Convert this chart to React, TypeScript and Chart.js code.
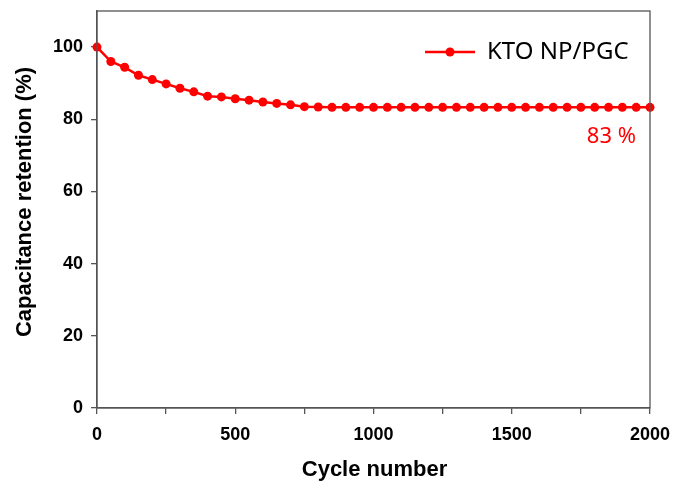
import React, { useEffect, useRef } from "react";
import { Chart, registerables } from "chart.js";

Chart.register(...registerables);

const cycles: number[] = [
  0, 50, 100, 150, 200, 250, 300, 350, 400, 450, 500, 550, 600, 650, 700, 750, 800, 850, 900, 950,
  1000, 1050, 1100, 1150, 1200, 1250, 1300, 1350, 1400, 1450, 1500, 1550, 1600, 1650, 1700, 1750,
  1800, 1850, 1900, 1950, 2000,
];
const retention: number[] = [
  100, 96.0, 94.4, 92.2, 91.0, 89.8, 88.6, 87.6, 86.4, 86.2, 85.7, 85.3, 84.8, 84.4, 84.0, 83.5,
  83.4, 83.3, 83.3, 83.3, 83.3, 83.3, 83.3, 83.3, 83.3, 83.3, 83.3, 83.3, 83.3, 83.3, 83.3, 83.3,
  83.3, 83.3, 83.3, 83.3, 83.3, 83.3, 83.3, 83.3, 83.3,
];
const yTickValues: number[] = [0, 20, 40, 60, 80, 100];
const seriesName = "KTO NP/PGC";
const annotationText = "83 %";
const xTitle = "Cycle number";
const yTitle = "Capacitance retention (%)";

const RED = "#ff0000";
const AXIS = "#555555";

export default function App() {
  const ref = useRef<HTMLCanvasElement | null>(null);

  useEffect(() => {
    if (!ref.current) return;
    const overlay = {
      id: "overlay",
      afterDraw(chart: any) {
        const ctx = chart.ctx;
        const a = chart.chartArea;
        ctx.save();
        ctx.strokeStyle = AXIS;
        ctx.lineWidth = 1.3;
        ctx.strokeRect(a.left, a.top, a.right - a.left, a.bottom - a.top);
        ctx.fillStyle = "#000";
        ctx.font = "bold 22px 'Liberation Sans', Arial, sans-serif";
        ctx.textAlign = "center";
        ctx.textBaseline = "middle";
        ctx.fillText(xTitle, (a.left + a.right) / 2 + 1, 470);
        ctx.save();
        ctx.translate(25, 202);
        ctx.rotate(-Math.PI / 2);
        ctx.fillText(yTitle, 0, 0);
        ctx.restore();
        const ly = 52;
        ctx.strokeStyle = RED;
        ctx.lineWidth = 2.5;
        ctx.beginPath();
        ctx.moveTo(425, ly);
        ctx.lineTo(475, ly);
        ctx.stroke();
        ctx.fillStyle = RED;
        ctx.beginPath();
        ctx.arc(450, ly, 4.5, 0, Math.PI * 2);
        ctx.fill();
        ctx.fillStyle = "#000";
        ctx.textAlign = "left";
        ctx.font = "24px 'Noto Sans', 'Open Sans', sans-serif";
        ctx.fillText(seriesName, 487, ly);
        ctx.fillStyle = RED;
        ctx.font = "22px 'Noto Sans', 'Open Sans', sans-serif";
        ctx.textAlign = "right";
        ctx.fillText(annotationText, 636, 137);
        ctx.restore();
      },
    };

    const zeroPad = (scale: any) => {
      scale.paddingTop = 0;
      scale.paddingBottom = 0;
      scale.paddingLeft = 0;
      scale.paddingRight = 0;
    };

    const chart = new Chart(ref.current, {
      type: "line",
      data: {
        labels: cycles,
        datasets: [
          {
            label: seriesName,
            data: cycles.map((c, i) => ({ x: c, y: retention[i] })),
            borderColor: RED,
            backgroundColor: RED,
            borderWidth: 2.5,
            pointRadius: 4.5,
            pointHoverRadius: 4.5,
            pointBackgroundColor: RED,
            pointBorderColor: RED,
            pointBorderWidth: 0,
            tension: 0,
            clip: false as any,
          },
        ],
      },
      options: {
        responsive: false,
        animation: false,
        events: [],
        layout: { padding: { top: 11, right: 25, left: 0, bottom: 0 } },
        plugins: {
          legend: { display: false },
          tooltip: { enabled: false },
          title: { display: false },
        },
        scales: {
          x: {
            type: "linear",
            min: 0,
            max: 2000,
            afterFit(scale: any) {
              scale.height = 80;
              zeroPad(scale);
            },
            grid: {
              drawOnChartArea: false,
              drawTicks: true,
              tickLength: 6,
              color: AXIS,
              lineWidth: 1.3,
            },
            border: { display: true, color: AXIS, width: 1.3 },
            ticks: {
              stepSize: 250,
              autoSkip: false,
              maxRotation: 0,
              padding: 10,
              color: "#000",
              font: { family: "'Liberation Sans', Arial, sans-serif", size: 18, weight: "bold" },
              callback: (v: any) => (Number(v) % 500 === 0 ? String(v) : ""),
            },
          },
          y: {
            type: "linear",
            min: 0,
            max: 110,
            afterBuildTicks(scale: any) {
              scale.ticks = yTickValues.map((v) => ({ value: v }));
            },
            afterFit(scale: any) {
              scale.width = 97;
              zeroPad(scale);
            },
            grid: {
              drawOnChartArea: false,
              drawTicks: true,
              tickLength: 6,
              color: AXIS,
              lineWidth: 1.3,
            },
            border: { display: true, color: AXIS, width: 1.3 },
            ticks: {
              padding: 8,
              color: "#000",
              font: { family: "'Liberation Sans', Arial, sans-serif", size: 18, weight: "bold" },
              callback: (v: any) => String(v),
            },
          },
        },
      },
      plugins: [overlay],
    } as any);
    return () => chart.destroy();
  }, []);

  return (
    <div style={{ position: "absolute", left: 0, top: 0, width: 675, height: 488, background: "#fff" }}>
      <canvas ref={ref} width={675} height={488} style={{ display: "block", width: 675, height: 488 }} />
    </div>
  );
}
